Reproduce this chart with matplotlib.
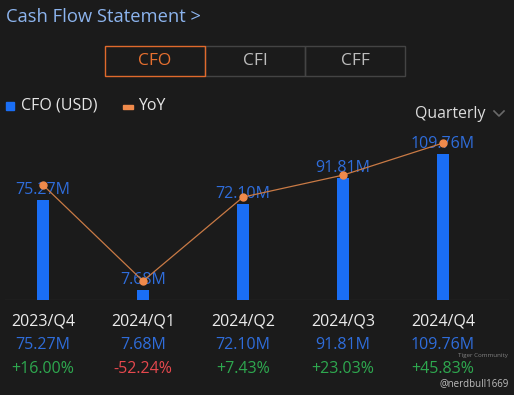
import numpy as np
import matplotlib.pyplot as plt
import matplotlib.transforms as mtransforms
from matplotlib.patches import Rectangle

# data
quarters = ["2023/Q4", "2024/Q1", "2024/Q2", "2024/Q3", "2024/Q4"]
cfo = [75.27, 7.68, 72.10, 91.81, 109.76]          # USD millions
yoy = [16.00, -52.24, 7.43, 23.03, 45.83]           # percent
tabs = ["CFO", "CFI", "CFF"]

W, H = 514, 395
BG = "#1b1b1b"
BLUE = "#1a6ef5"
BLUE_TXT = "#2f6ddb"
ORANGE = "#f08a4b"
LINE = "#c97a45"
GREEN = "#2ea84f"
RED = "#e5484d"

plt.rcParams["font.family"] = ["Open Sans", "DejaVu Sans"]

fig = plt.figure(figsize=(W / 100, H / 100), dpi=100)
fig.patch.set_facecolor(BG)


def fx(px):
    return px / W


def fy(py):
    return 1 - py / H


# ── header ──────────────────────────────────────────────────────────────
fig.text(fx(6), fy(17), "Cash Flow Statement >", color="#8cb4ee",
         fontsize=13.2, va="center", ha="left")

for i, t in enumerate(tabs):
    x0 = 105 + i * 100
    active = i == 0
    fig.patches.append(Rectangle((fx(x0), fy(76)), fx(100), 30 / H,
                                 transform=fig.transFigure, fill=False,
                                 edgecolor="#e06a2c" if active else "#444444",
                                 lw=1.0, zorder=3 if active else 2))
    fig.text(fx(x0 + 50), fy(61), t, color="#e8702f" if active else "#bdbdbd",
             fontsize=12.5, ha="center", va="center")

# legend
fig.patches.append(Rectangle((fx(6), fy(110)), fx(8), 8 / H,
                             transform=fig.transFigure, color=BLUE))
fig.text(fx(21), fy(106), "CFO (USD)", color="#e6e6e6", fontsize=11.5,
         va="center")
fig.patches.append(Rectangle((fx(123), fy(108.5)), fx(10), 3 / H,
                             transform=fig.transFigure, color=ORANGE))
fig.text(fx(138), fy(106), "YoY", color="#e6e6e6", fontsize=11.5,
         va="center")

fig.text(fx(415), fy(114), "Quarterly", color="#dcdcdc", fontsize=11.4,
         va="center")
fig.lines.append(plt.Line2D([fx(494), fx(499), fx(504)],
                            [fy(111), fy(116), fy(111)],
                            transform=fig.transFigure, color="#6a6a6a", lw=1.2))

# ── chart ───────────────────────────────────────────────────────────────
ax = fig.add_axes([0, fy(300), 1, 170 / H])
ax.set_facecolor("none")
x = np.arange(len(quarters))
ax.bar(x, cfo, width=0.12, color=BLUE, zorder=2)
ax.set_xlim(-0.43, 4.71)
ax.set_ylim(0, 170 / 1.33)
ax.axis("off")
ax.plot([-0.38, 4.65], [0, 0], color="#2c2c2c", lw=1, zorder=1)

for xi, v in zip(x, cfo):
    ax.annotate(f"{v:.2f}M", (xi, v), xytext=(0, 10), textcoords="offset pixels",
                ha="center", va="center", color=BLUE_TXT, fontsize=11.5, zorder=3)

ax2 = ax.twinx()
ax2.set_ylim(-65.7, 55.1)
ax2.axis("off")
ax2.plot(x, yoy, color=LINE, lw=0.9, marker="o", ms=5,
         mfc=ORANGE, mec=ORANGE, zorder=4)

# ── table below ─────────────────────────────────────────────────────────
tr = mtransforms.blended_transform_factory(ax.transData, fig.transFigure)
for xi, q, v, p in zip(x, quarters, cfo, yoy):
    fig.text(xi, fy(322), q, transform=tr, ha="center", va="center",
             color="#ececec", fontsize=11.5)
    fig.text(xi, fy(345), f"{v:.2f}M", transform=tr, ha="center",
             va="center", color=BLUE_TXT, fontsize=11.5)
    fig.text(xi, fy(369), f"{p:+.2f}%", transform=tr, ha="center",
             va="center", color=GREEN if p >= 0 else RED, fontsize=11.5)

# watermark
fig.text(fx(458), fy(356), "Tiger Community", color="#9a9a9a", fontsize=4.5,
         va="center", alpha=0.8)
fig.text(fx(440), fy(384), "@nerdbull1669", color="#bdbdbd", fontsize=7,
         va="center")

fig.savefig("out.png", dpi=100, facecolor=BG)
